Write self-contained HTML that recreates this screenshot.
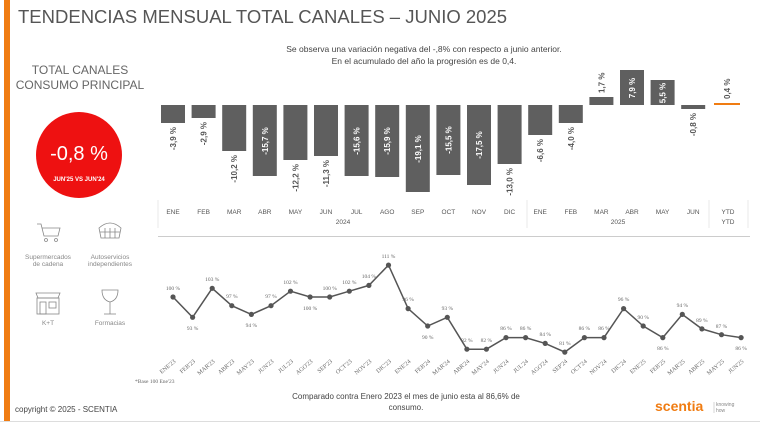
<!DOCTYPE html>
<html><head><meta charset="utf-8"><style>
html,body{margin:0;padding:0;background:#fff;}
svg{display:block;font-family:"Liberation Sans",sans-serif;}
</style></head><body>
<svg width="760" height="430" viewBox="0 0 760 430" xmlns="http://www.w3.org/2000/svg">
<rect x="0" y="0" width="760" height="430" fill="#fff"/>
<rect x="4" y="0" width="6" height="421" fill="#f07c12"/>
<line x1="0" y1="421.5" x2="760" y2="421.5" stroke="#ddd"/>
<text x="18" y="23" font-size="18.5" fill="#555">TENDENCIAS MENSUAL TOTAL CANALES – JUNIO 2025</text>
<text x="424" y="52" font-size="8.5" fill="#444" text-anchor="middle">Se observa una variación negativa del -,8% con respecto a junio anterior.</text>
<text x="424" y="64" font-size="8.5" fill="#444" text-anchor="middle">En el acumulado del año la progresión es de 0,4.</text>
<text x="80" y="74" font-size="12" fill="#666" text-anchor="middle">TOTAL CANALES</text>
<text x="80" y="89" font-size="12" fill="#666" text-anchor="middle">CONSUMO PRINCIPAL</text>
<circle cx="79" cy="155" r="43" fill="#ee1111"/>
<text x="79" y="160" font-size="20" fill="#fff" text-anchor="middle">-0,8 %</text>
<text x="79" y="181" font-size="6" fill="#fff" text-anchor="middle" font-weight="bold">JUN'25 VS JUN'24</text>
<g stroke="#888" fill="none" stroke-width="0.8">
<path d="M37 224 L41 224 L44 236 L58 236 L60 228 L42 228"/><circle cx="46" cy="240" r="1.5"/><circle cx="56" cy="240" r="1.5"/>
<path d="M99 228 Q110 218 121 228 L119 238 L101 238 Z"/><line x1="100" y1="232" x2="120" y2="232"/><line x1="105" y1="228" x2="105" y2="238"/><line x1="110" y1="228" x2="110" y2="238"/><line x1="115" y1="228" x2="115" y2="238"/>
<rect x="37" y="298" width="22" height="16"/><path d="M36 293 L60 293 L58 298 L38 298 Z"/><rect x="40" y="302" width="6" height="12"/><rect x="49" y="302" width="7" height="6"/>
<path d="M102 290 L118 290 Q118 300 110 302 Q102 300 102 290 Z"/><line x1="110" y1="302" x2="110" y2="314"/><line x1="104" y1="314" x2="116" y2="314"/>
</g>
<g font-size="6.5" fill="#888" text-anchor="middle">
<text x="48" y="259">Supermercados</text><text x="48" y="266">de cadena</text>
<text x="110" y="259">Autoservicios</text><text x="110" y="266">independientes</text>
<text x="48" y="325">K+T</text><text x="110" y="325">Formacias</text>
</g>
<g fill="#5f5f5f">
<rect x="161" y="105" width="24" height="18"/>
<rect x="191.6" y="105" width="24" height="13"/>
<rect x="222.2" y="105" width="24" height="46"/>
<rect x="252.8" y="105" width="24" height="71"/>
<rect x="283.4" y="105" width="24" height="55"/>
<rect x="314" y="105" width="24" height="51"/>
<rect x="344.6" y="105" width="24" height="71"/>
<rect x="375.2" y="105" width="24" height="72"/>
<rect x="405.8" y="105" width="24" height="87"/>
<rect x="436.4" y="105" width="24" height="70"/>
<rect x="467" y="105" width="24" height="80"/>
<rect x="497.6" y="105" width="24" height="59"/>
<rect x="528.2" y="105" width="24" height="30"/>
<rect x="558.8" y="105" width="24" height="18"/>
<rect x="589.4" y="97" width="24" height="8"/>
<rect x="620" y="70" width="24" height="35"/>
<rect x="650.6" y="80" width="24" height="25"/>
<rect x="681.2" y="105" width="24" height="4"/>
</g>
<rect x="714" y="103" width="26" height="2" fill="#f07c12"/>
<g font-size="8" font-weight="bold" fill="#555">
<text transform="translate(176,127) rotate(-90)" text-anchor="end">-3,9 %</text>
<text transform="translate(206.6,122) rotate(-90)" text-anchor="end">-2,9 %</text>
<text transform="translate(237.2,155) rotate(-90)" text-anchor="end">-10,2 %</text>
<text transform="translate(298.4,164) rotate(-90)" text-anchor="end">-12,2 %</text>
<text transform="translate(329,160) rotate(-90)" text-anchor="end">-11,3 %</text>
<text transform="translate(512.6,168) rotate(-90)" text-anchor="end">-13,0 %</text>
<text transform="translate(543.2,139) rotate(-90)" text-anchor="end">-6,6 %</text>
<text transform="translate(573.8,127) rotate(-90)" text-anchor="end">-4,0 %</text>
<text transform="translate(604.4,93) rotate(-90)">1,7 %</text>
<text transform="translate(696.2,113) rotate(-90)" text-anchor="end">-0,8 %</text>
<text transform="translate(730,99) rotate(-90)">0,4 %</text>
</g>
<g font-size="8" font-weight="bold" fill="#fff" text-anchor="middle">
<text transform="translate(267.8,141) rotate(-90)">-15,7 %</text>
<text transform="translate(359.6,141) rotate(-90)">-15,6 %</text>
<text transform="translate(390.2,141) rotate(-90)">-15,9 %</text>
<text transform="translate(420.8,149) rotate(-90)">-19,1 %</text>
<text transform="translate(451.4,140) rotate(-90)">-15,5 %</text>
<text transform="translate(482,145) rotate(-90)">-17,5 %</text>
<text transform="translate(635,88) rotate(-90)">7,9 %</text>
<text transform="translate(665.6,93) rotate(-90)">5,5 %</text>
</g>
<g stroke="#e3e3e3" stroke-width="0.8">
<line x1="158" y1="200" x2="158" y2="228"/>
<line x1="527" y1="200" x2="527" y2="228"/>
<line x1="709" y1="200" x2="709" y2="228"/>
<line x1="748" y1="200" x2="748" y2="228"/>
</g>
<line x1="158" y1="236.5" x2="750" y2="236.5" stroke="#bbb" stroke-width="0.8"/>
<g font-size="6.5" fill="#555" text-anchor="middle">
<text x="173" y="214">ENE</text><text x="203.6" y="214">FEB</text><text x="234.2" y="214">MAR</text><text x="264.8" y="214">ABR</text><text x="295.4" y="214">MAY</text><text x="326" y="214">JUN</text><text x="356.6" y="214">JUL</text><text x="387.2" y="214">AGO</text><text x="417.8" y="214">SEP</text><text x="448.4" y="214">OCT</text><text x="479" y="214">NOV</text><text x="509.6" y="214">DIC</text><text x="540.2" y="214">ENE</text><text x="570.8" y="214">FEB</text><text x="601.4" y="214">MAR</text><text x="632" y="214">ABR</text><text x="662.6" y="214">MAY</text><text x="693.2" y="214">JUN</text><text x="728" y="214">YTD</text>
<text x="343" y="224">2024</text><text x="618" y="224">2025</text><text x="728" y="224">YTD</text>
</g>
<polyline fill="none" stroke="#555" stroke-width="1.5" points="173,297 192.6,317.3 212.2,288.3 231.8,305.7 251.4,314.4 271,305.7 290.5,291.2 310.1,297 329.7,297 349.3,291.2 368.9,285.4 388.5,265.1 408.1,308.6 427.7,326 447.3,317.3 466.9,349.2 486.4,349.2 506,337.6 525.6,337.6 545.2,343.4 564.8,352.1 584.4,337.6 604,337.6 623.6,308.6 643.2,326 662.8,337.6 682.3,314.4 701.9,328.9 721.5,334.7 741.1,337.6"/>
<g fill="#555">
<circle cx="173" cy="297" r="2.6"/><circle cx="192.6" cy="317.3" r="2.6"/><circle cx="212.2" cy="288.3" r="2.6"/><circle cx="231.8" cy="305.7" r="2.6"/><circle cx="251.4" cy="314.4" r="2.6"/><circle cx="271" cy="305.7" r="2.6"/><circle cx="290.5" cy="291.2" r="2.6"/><circle cx="310.1" cy="297" r="2.6"/><circle cx="329.7" cy="297" r="2.6"/><circle cx="349.3" cy="291.2" r="2.6"/><circle cx="368.9" cy="285.4" r="2.6"/><circle cx="388.5" cy="265.1" r="2.6"/><circle cx="408.1" cy="308.6" r="2.6"/><circle cx="427.7" cy="326" r="2.6"/><circle cx="447.3" cy="317.3" r="2.6"/><circle cx="466.9" cy="349.2" r="2.6"/><circle cx="486.4" cy="349.2" r="2.6"/><circle cx="506" cy="337.6" r="2.6"/><circle cx="525.6" cy="337.6" r="2.6"/><circle cx="545.2" cy="343.4" r="2.6"/><circle cx="564.8" cy="352.1" r="2.6"/><circle cx="584.4" cy="337.6" r="2.6"/><circle cx="604" cy="337.6" r="2.6"/><circle cx="623.6" cy="308.6" r="2.6"/><circle cx="643.2" cy="326" r="2.6"/><circle cx="662.8" cy="337.6" r="2.6"/><circle cx="682.3" cy="314.4" r="2.6"/><circle cx="701.9" cy="328.9" r="2.6"/><circle cx="721.5" cy="334.7" r="2.6"/><circle cx="741.1" cy="337.6" r="2.6"/>
</g>
<g font-size="5.5" fill="#666" text-anchor="middle" font-family="Liberation Serif,serif">
<text x="173" y="290">100 %</text><text x="192.6" y="330">93 %</text><text x="212.2" y="281">103 %</text><text x="231.8" y="298">97 %</text><text x="251.4" y="327">94 %</text><text x="271" y="298">97 %</text><text x="290.5" y="284">102 %</text><text x="310.1" y="310">100 %</text><text x="329.7" y="290">100 %</text><text x="349.3" y="284">102 %</text><text x="368.9" y="278">104 %</text><text x="388.5" y="258">111 %</text><text x="408.1" y="301">96 %</text><text x="427.7" y="339">90 %</text><text x="447.3" y="310">93 %</text><text x="466.9" y="342">82 %</text><text x="486.4" y="342">82 %</text><text x="506" y="330">86 %</text><text x="525.6" y="330">86 %</text><text x="545.2" y="336">84 %</text><text x="564.8" y="345">81 %</text><text x="584.4" y="330">86 %</text><text x="604" y="330">86 %</text><text x="623.6" y="301">96 %</text><text x="643.2" y="319">90 %</text><text x="662.8" y="350">86 %</text><text x="682.3" y="307">94 %</text><text x="701.9" y="322">89 %</text><text x="721.5" y="328">87 %</text><text x="741.1" y="350">86 %</text>
</g>
<g font-size="6" fill="#666" text-anchor="end" font-family="Liberation Serif,serif">
<text transform="translate(176,362) rotate(-40)">ENE'23</text><text transform="translate(195.6,362) rotate(-40)">FEB'23</text><text transform="translate(215.2,362) rotate(-40)">MAR'23</text><text transform="translate(234.8,362) rotate(-40)">ABR'23</text><text transform="translate(254.4,362) rotate(-40)">MAY'23</text><text transform="translate(274,362) rotate(-40)">JUN'23</text><text transform="translate(293.5,362) rotate(-40)">JUL'23</text><text transform="translate(313.1,362) rotate(-40)">AGO'23</text><text transform="translate(332.7,362) rotate(-40)">SEP'23</text><text transform="translate(352.3,362) rotate(-40)">OCT'23</text><text transform="translate(371.9,362) rotate(-40)">NOV'23</text><text transform="translate(391.5,362) rotate(-40)">DIC'23</text><text transform="translate(411.1,362) rotate(-40)">ENE'24</text><text transform="translate(430.7,362) rotate(-40)">FEB'24</text><text transform="translate(450.3,362) rotate(-40)">MAR'24</text><text transform="translate(469.9,362) rotate(-40)">ABR'24</text><text transform="translate(489.4,362) rotate(-40)">MAY'24</text><text transform="translate(509,362) rotate(-40)">JUN'24</text><text transform="translate(528.6,362) rotate(-40)">JUL'24</text><text transform="translate(548.2,362) rotate(-40)">AGO'24</text><text transform="translate(567.8,362) rotate(-40)">SEP'24</text><text transform="translate(587.4,362) rotate(-40)">OCT'24</text><text transform="translate(607,362) rotate(-40)">NOV'24</text><text transform="translate(626.6,362) rotate(-40)">DIC'24</text><text transform="translate(646.2,362) rotate(-40)">ENE'25</text><text transform="translate(665.8,362) rotate(-40)">FEB'25</text><text transform="translate(685.3,362) rotate(-40)">MAR'25</text><text transform="translate(704.9,362) rotate(-40)">ABR'25</text><text transform="translate(724.5,362) rotate(-40)">MAY'25</text><text transform="translate(744.1,362) rotate(-40)">JUN'25</text>
</g>
<text x="135" y="383" font-size="5.5" fill="#666" font-family="Liberation Serif,serif">*Base 100 Ene'23</text>
<text x="406" y="399" font-size="8" fill="#444" text-anchor="middle">Comparado contra Enero 2023 el mes de junio esta al 86,6% de</text>
<text x="406" y="410" font-size="8" fill="#444" text-anchor="middle">consumo.</text>
<text x="15" y="412" font-size="8" fill="#444">copyright © 2025 - SCENTIA</text>
<text x="655" y="411" font-size="14" font-weight="bold" fill="#f07c12">scentia</text>
<line x1="714" y1="402" x2="714" y2="413" stroke="#aaa" stroke-width="0.5"/>
<text x="716" y="406" font-size="5" fill="#888">knowing</text>
<text x="716" y="412" font-size="5" fill="#888">how</text>
</svg>
</body></html>
